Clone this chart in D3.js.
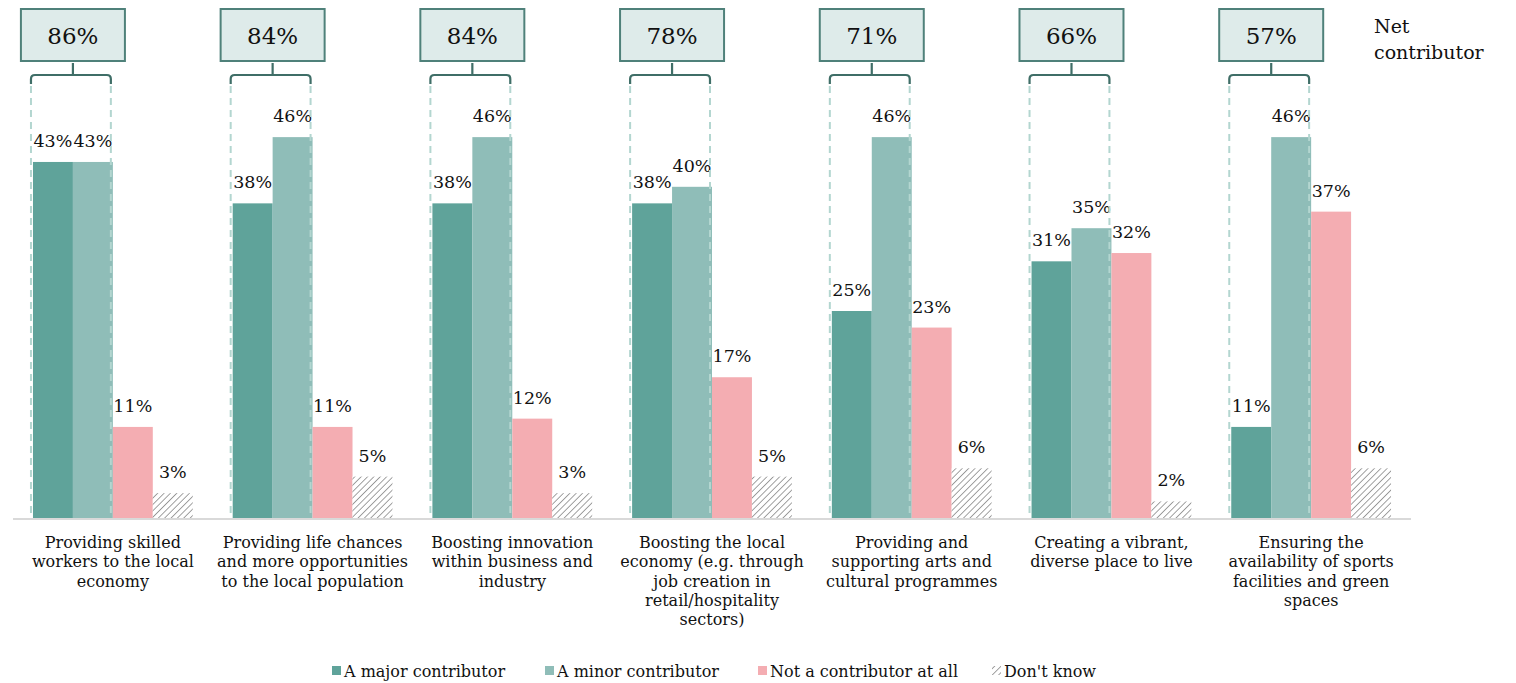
<!DOCTYPE html>
<html>
<head>
<meta charset="utf-8">
<script src="https://cdn.jsdelivr.net/npm/d3@7"></script>
<style>
  body { margin: 0; background: #fff; }
  text { font-family: "DejaVu Serif", "Liberation Serif", serif; fill: #111; }
</style>
</head>
<body>
<div id="chart"></div>
<script>
// Chart data
const categories = [
    ['Providing skilled', 'workers to the local', 'economy'],
    ['Providing life chances', 'and more opportunities', 'to the local population'],
    ['Boosting innovation', 'within business and', 'industry'],
    ['Boosting the local', 'economy (e.g. through', 'job creation in', 'retail/hospitality', 'sectors)'],
    ['Providing and', 'supporting arts and', 'cultural programmes'],
    ['Creating a vibrant,', 'diverse place to live'],
    ['Ensuring the', 'availability of sports', 'facilities and green', 'spaces']
];
const seriesNames = ['A major contributor', 'A minor contributor', 'Not a contributor at all', "Don't know"];
const majorValues = [43, 38, 38, 38, 25, 31, 11];
const minorValues = [43, 46, 46, 40, 46, 35, 46];
const notValues = [11, 11, 12, 17, 23, 32, 37];
const dontKnowValues = [3, 5, 3, 5, 6, 2, 6];
const netValues = [86, 84, 84, 78, 71, 66, 57];

const width = 1516;
const height = 683;
const colors = ['#5fa39a', '#8fbdb8', '#f4adb2', 'url(#hatch)'];

const svg = d3.select('#chart')
    .append('svg')
    .attr('width', width)
    .attr('height', height);

// Hatch pattern for "Don't know"
const defs = svg.append('defs');
const pat = defs.append('pattern')
    .attr('id', 'hatch')
    .attr('patternUnits', 'userSpaceOnUse')
    .attr('width', 4.5)
    .attr('height', 4.5)
    .attr('patternTransform', 'rotate(45)');
pat.append('rect').attr('width', 4.5).attr('height', 4.5).attr('fill', '#fff');
pat.append('line')
    .attr('x1', 0).attr('y1', 0).attr('x2', 0).attr('y2', 4.5)
    .attr('stroke', '#8a8a8a')
    .attr('stroke-width', 1.6);

const idx = d3.range(categories.length);
const x0 = d3.scaleBand()
    .domain(idx)
    .range([13, 1411])
    .paddingInner(0.2)
    .paddingOuter(0.1);

const x1 = d3.scaleBand()
    .domain(d3.range(4))
    .range([0, x0.bandwidth()]);

const y = d3.scaleLinear()
    .domain([0, 50])
    .range([518, 104]);

const series = [majorValues, minorValues, notValues, dontKnowValues];

// Bars
const groups = svg.append('g')
    .selectAll('g')
    .data(idx)
    .enter().append('g')
    .attr('transform', d => `translate(${x0(d)},0)`);

groups.selectAll('rect')
    .data(d => series.map((s, k) => ({ k, v: s[d] })))
    .enter().append('rect')
    .attr('x', d => x1(d.k))
    .attr('y', d => y(d.v))
    .attr('width', x1.bandwidth())
    .attr('height', d => y(0) - y(d.v))
    .attr('fill', d => colors[d.k]);

groups.selectAll('text.val')
    .data(d => series.map((s, k) => ({ k, v: s[d] })))
    .enter().append('text')
    .attr('class', 'val')
    .attr('x', d => x1(d.k) + x1.bandwidth() / 2)
    .attr('y', d => y(d.v) - 15)
    .attr('text-anchor', 'middle')
    .attr('font-size', '17.5px')
    .text(d => d.v + '%');

// Net contributor brackets and dashed guides
const bw = x1.bandwidth();
const net = svg.append('g');
idx.forEach(i => {
    const left = x0(i) - 2;
    const right = x0(i) + 2 * bw - 2;
    const cx = x0(i) + bw;

    [left, right].forEach(xx => {
        net.append('line')
            .attr('x1', xx).attr('x2', xx)
            .attr('y1', 86).attr('y2', y(0))
            .attr('stroke', '#b3d6d0')
            .attr('stroke-width', 2)
            .attr('stroke-dasharray', '7,5');
    });

    net.append('path')
        .attr('d', `M${left},84 V79 Q${left},75 ${left + 4},75 H${right - 4} Q${right},75 ${right},79 V84 M${cx},75 V63`)
        .attr('fill', 'none')
        .attr('stroke', '#3f6e67')
        .attr('stroke-width', 2.2);

    net.append('rect')
        .attr('x', cx - 52)
        .attr('y', 9)
        .attr('width', 104)
        .attr('height', 52)
        .attr('fill', '#deebea')
        .attr('stroke', '#4f817a')
        .attr('stroke-width', 2);

    net.append('text')
        .attr('x', cx)
        .attr('y', 44)
        .attr('text-anchor', 'middle')
        .attr('font-size', '23px')
        .text(netValues[i] + '%');
});

svg.append('text')
    .attr('x', 1374)
    .attr('y', 33)
    .attr('font-size', '19px')
    .selectAll('tspan')
    .data(['Net', 'contributor'])
    .enter().append('tspan')
    .attr('x', 1374)
    .attr('dy', (d, i) => i ? 26 : 0)
    .text(d => d);

// Axis baseline
svg.append('line')
    .attr('x1', 13).attr('x2', 1411)
    .attr('y1', y(0) + 1).attr('y2', y(0) + 1)
    .attr('stroke', '#d9d9d9')
    .attr('stroke-width', 2);

// Category labels
const catText = svg.append('g')
    .selectAll('text')
    .data(idx)
    .enter().append('text')
    .attr('text-anchor', 'middle')
    .attr('font-size', '16px')
    .attr('y', 548);

catText.selectAll('tspan')
    .data(d => categories[d].map(line => ({ d, line })))
    .enter().append('tspan')
    .attr('x', d => x0(d.d) + x0.bandwidth() / 2)
    .attr('dy', (d, i) => i ? 19.3 : 0)
    .text(d => d.line);

// Legend
const legendX = [332, 545, 758, 992];
const legend = svg.append('g')
    .selectAll('g')
    .data(seriesNames)
    .enter().append('g')
    .attr('transform', (d, i) => `translate(${legendX[i]},0)`);

legend.append('rect')
    .attr('x', 0)
    .attr('y', 666)
    .attr('width', 9)
    .attr('height', 9)
    .attr('fill', (d, i) => colors[i]);

legend.append('text')
    .attr('x', 12)
    .attr('y', 677)
    .attr('font-size', '16px')
    .text(d => d);
</script>
</body>
</html>
